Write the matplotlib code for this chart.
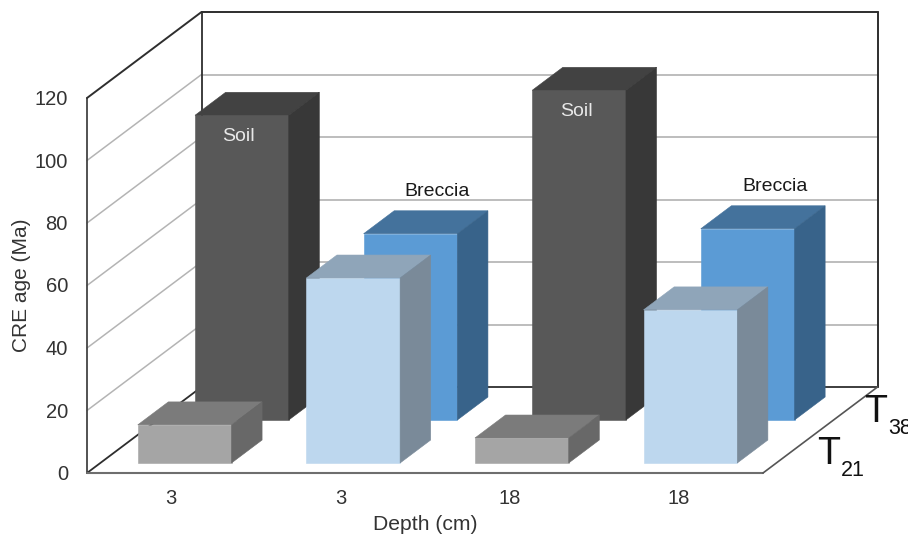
import matplotlib
matplotlib.use("Agg")
import matplotlib.pyplot as plt
from matplotlib.patches import Polygon

plt.rcParams['font.family'] = ['Liberation Sans', 'DejaVu Sans']

# ---- data ----
categories = ['3', '3', '18', '18']
series_names = ['T21', 'T38']
t21_values = [12.2, 59.2, 8.0, 49.0]
t38_values = [97.5, 59.6, 105.5, 61.2]
value_ticks = [0, 20, 40, 60, 80, 100, 120]
bar_notes = ['Soil', 'Breccia', 'Soil', 'Breccia']

W, H = 908, 535
fig = plt.figure(figsize=(W / 100, H / 100), dpi=100)
ax = fig.add_axes([0, 0, 1, 1])
ax.set_xlim(0, W)
ax.set_ylim(H, 0)
ax.axis('off')

# oblique projection of the chart box
ORG_X, ORG_Y = 87.0, 473.0
CAT_W = 168.6
FRAME_CATS = 676.0 / CAT_W
PX_PER_UNIT = 375.0 / 120
DEPTH_X, DEPTH_Y = 114.5, -86.0
BAR_W = 0.556
BAR_D = 0.267


def proj(cat, depth, val):
    """cat in category units, depth 0..1, val in data units -> figure pixels."""
    return (ORG_X + cat * CAT_W + depth * DEPTH_X,
            ORG_Y + depth * DEPTH_Y - val * PX_PER_UNIT)


def line(p, q, color, lw, z=1):
    ax.plot([p[0], q[0]], [p[1], q[1]], color=color, lw=lw, zorder=z,
            solid_capstyle='round')


n = len(categories)
vmax = value_ticks[-1]
for v in value_ticks[1:-1]:
    line(proj(0, 0, v), proj(0, 1, v), '#b4b4b4', 1.1)
    line(proj(0, 1, v), proj(FRAME_CATS, 1, v), '#bdbdbd', 1.4)
# frame
dark = '#2e2e2e'
line(proj(0, 0, 0), proj(0, 0, vmax), '#444444', 1.3, 2)
line(proj(0, 0, vmax), proj(0, 1, vmax), dark, 1.4, 2)
line(proj(0, 1, vmax), proj(0, 1, 0), dark, 1.3, 2)
line(proj(0, 1, vmax), proj(FRAME_CATS, 1, vmax), dark, 1.4, 2)
line(proj(FRAME_CATS, 1, vmax), proj(FRAME_CATS, 1, 0), dark, 1.4, 2)
line(proj(0, 0, 0), proj(0, 1, 0), dark, 1.3, 2)
line(proj(0, 1, 0), proj(FRAME_CATS, 1, 0), dark, 1.3, 2)
line(proj(0, 0, 0), proj(FRAME_CATS, 0, 0), '#6e6e6e', 1.5, 2)
line(proj(FRAME_CATS, 0, 0), proj(FRAME_CATS, 1, 0), '#555555', 1.2, 2)


def bar(cat_i, row, value, front, top, side, z):
    c0 = cat_i + 0.5 - BAR_W / 2
    c1 = cat_i + 0.5 + BAR_W / 2
    d0 = (row + 0.5) / 2 - BAR_D / 2
    d1 = d0 + BAR_D
    ax.add_patch(Polygon([proj(c0, d0, 0), proj(c1, d0, 0), proj(c1, d0, value), proj(c0, d0, value)],
                         closed=True, fc=front, ec=front, lw=0.4, zorder=z))
    ax.add_patch(Polygon([proj(c0, d0, value), proj(c1, d0, value), proj(c1, d1, value), proj(c0, d1, value)],
                         closed=True, fc=top, ec=top, lw=0.4, zorder=z))
    ax.add_patch(Polygon([proj(c1, d0, 0), proj(c1, d1, 0), proj(c1, d1, value), proj(c1, d0, value)],
                         closed=True, fc=side, ec=side, lw=0.4, zorder=z))


back_cols = [('#585858', '#424242', '#383838'), ('#5b9bd5', '#44729c', '#38638a')]
front_cols = [('#a5a5a5', '#7b7b7b', '#686868'), ('#bdd7ee', '#8fa5b9', '#7a8a99')]
for i in range(n):
    f, t, s = back_cols[i % 2]
    bar(i, 1, t38_values[i], f, t, s, 5 + i)
for i in range(n):
    f, t, s = front_cols[i % 2]
    bar(i, 0, t21_values[i], f, t, s, 15 + i)

# notes on the rear bars
for i, note in enumerate(bar_notes):
    px, py = proj(i + 0.5, 0.75 - BAR_D / 2, t38_values[i])
    if note == 'Soil':
        ax.text(px - 3, py + 21.5, note, color='#e8e8e8', fontsize=14, ha='center', va='center', zorder=30)
    else:
        ax.text(px + 27, py - 42, note, color='#1a1a1a', fontsize=14, ha='center', va='center', zorder=30)

# ticks and axis titles
tc = '#333333'
for v in value_ticks:
    x, y = proj(0, 0, v)
    ax.text(x - 19, y + 1.5, str(v), color=tc, fontsize=14.5, ha='right', va='center')
for i, c in enumerate(categories):
    x, y = proj(i + 0.5, 0, 0)
    ax.text(x + i * 0.6, y + 25, c, color=tc, fontsize=14.5, ha='center', va='center')
ax.text(425, 524, 'Depth (cm)', color=tc, fontsize=15.2, ha='center', va='center')
ax.text(22, 285, 'CRE age (Ma)', color=tc, fontsize=15, rotation=90, ha='center', va='center')

# series labels on the depth axis
label_dx = [37, 27]
for row, name in enumerate(series_names):
    x, y = proj(FRAME_CATS, (row + 0.5) / 2, 0)
    ax.text(x + label_dx[row], y + 3, name[0], color='#111111', fontsize=27, ha='center', va='center', zorder=30)
    ax.text(x + label_dx[row] + 12, y + 19.5, name[1:], color='#111111', fontsize=15.5, ha='left', va='center', zorder=30)

fig.savefig('out.png', dpi=100)
